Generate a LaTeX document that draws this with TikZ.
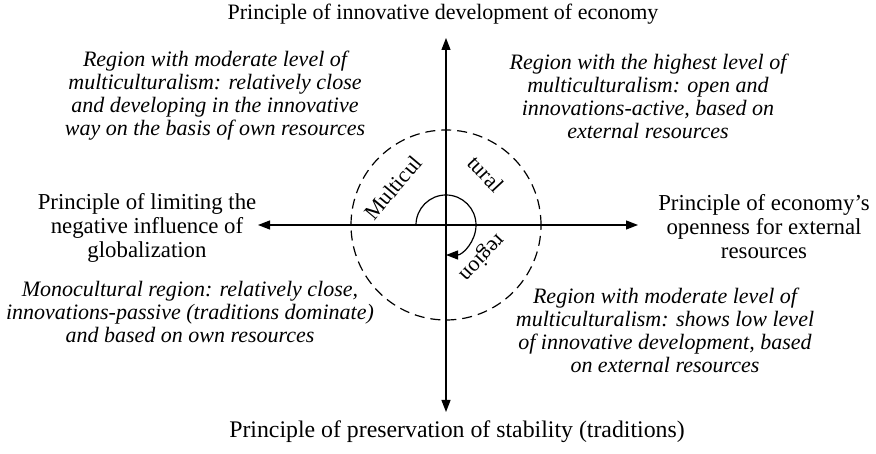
\documentclass[tikz,border=0pt]{standalone}
\usepackage{fontspec}
\setmainfont{Liberation Serif}
\usetikzlibrary{arrows.meta, positioning}

\tikzset{
  axislabel/.style={align=center, font=\fontsize{11.4}{12}\selectfont},
  quadtext/.style={align=center, font=\fontsize{11}{11.5}\selectfont\itshape},
  circtext/.style={font=\fontsize{11}{11.5}\selectfont, inner sep=0pt},
  axisarrow/.style={line width=0.6pt, {Triangle[length=6pt,width=4.5pt]}-{Triangle[length=6pt,width=4.5pt]}}
}

\begin{document}
\begin{tikzpicture}[x=0.5pt, y=0.5pt]
\useasboundingbox (0,0) rectangle (876,454);

% ============================================================
% axes
% ============================================================
\coordinate (O) at (446,229);
\coordinate (top) at (446,416);
\coordinate (bot) at (446,42);
\coordinate (left) at (258,229);
\coordinate (right) at (638,229);

\draw[axisarrow] (bot) -- (top);
\draw[axisarrow] (left) -- (right);

% dashed circle
\draw[line width=0.6pt, dash pattern=on 5pt off 3pt] (O) circle[radius=47.5pt];

% turning arrow
\draw[line width=0.6pt, -{Triangle[length=6pt,width=4.5pt]}]
  ([shift={(180:15pt)}]O) arc[start angle=180, end angle=-90, radius=15pt];

\node[circtext, rotate=50] (multi) at (393,266) {Multicul};
\node[circtext, rotate=-47] (tural) at (486,280) {tural};
\node[circtext, rotate=-133] (region) at (482,197) {region};

% ============================================================
% axis labels
% ============================================================
\node[axislabel, font=\fontsize{11}{12}\selectfont] (innov) at (443,440) {Principle of innovative development of economy};
\node[axislabel, font=\fontsize{11.9}{12}\selectfont] (stab) at (457,22) {Principle of preservation of stability (traditions)};
\node[axislabel] (limit) at (147,226) {Principle of limiting the\\negative influence of\\globalization};
\node[axislabel] (open) at (764,227) {Principle of economy's\\openness for external\\resources};

% ============================================================
% quadrants
% ============================================================
\node[quadtext] (q2) at (215,358) {Region with moderate level of\\multiculturalism: relatively close\\and developing in the innovative\\way on the basis of own resources};
\node[quadtext] (q1) at (648,358) {Region with the highest level of\\multiculturalism: open and\\innovations-active, based on\\external resources};
\node[quadtext] (q3) at (190,142) {Monocultural region: relatively close,\\innovations-passive (traditions dominate)\\and based on own resources};
\node[quadtext] (q4) at (665,124) {Region with moderate level of\\multiculturalism: shows low level\\of innovative development, based\\on external resources};

\end{tikzpicture}
\end{document}
